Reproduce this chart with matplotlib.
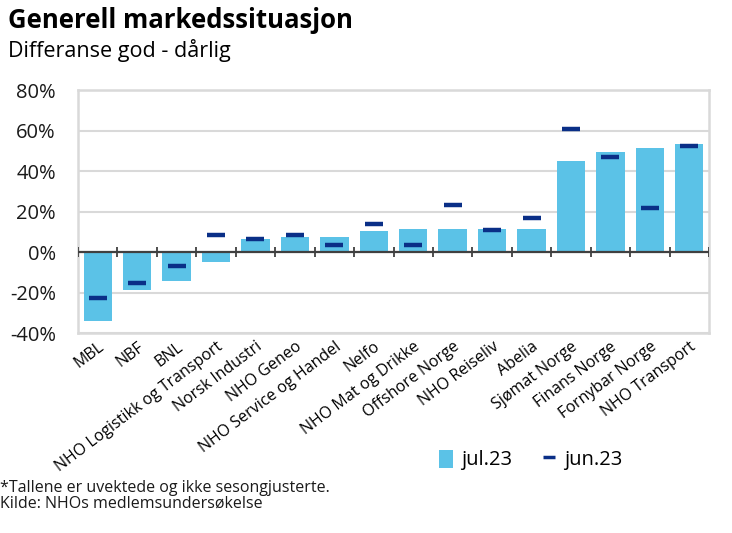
import matplotlib
matplotlib.use('Agg')
import matplotlib.pyplot as plt
import numpy as np
from matplotlib.lines import Line2D
from matplotlib.patches import Patch
from matplotlib.ticker import FuncFormatter

plt.rcParams['font.family'] = ['Open Sans', 'DejaVu Sans']

# ---------------------------------------------------------------------------
categories = ['MBL', 'NBF', 'BNL', 'NHO Logistikk og Transport', 'Norsk Industri',
              'NHO Geneo', 'NHO Service og Handel', 'Nelfo', 'NHO Mat og Drikke',
              'Offshore Norge', 'NHO Reiseliv', 'Abelia', 'Sjømat Norge',
              'Finans Norge', 'Fornybar Norge', 'NHO Transport']
jul23 = [-34, -18.5, -14.3, -4.8, 6.3, 7.3, 7.3, 10.6, 11.6, 11.6, 11.6, 11.6,
         45.2, 49.3, 51.4, 53.3]
jun23 = [-22.8, -15.3, -7.1, 8.6, 6.5, 8.6, 3.4, 13.7, 3.4, 23.2, 10.8, 16.9,
         60.8, 47.2, 22.0, 52.5]

bar_color = '#5BC2E7'
dash_color = '#0A2F87'
grid_color = '#D9D9D9'

fig = plt.figure(figsize=(7.32, 5.33), dpi=100)
ax = fig.add_axes([0.1066, 0.375, 0.862, 0.456])

x = np.arange(len(categories))
ax.bar(x, jul23, width=0.72, color=bar_color, zorder=2)
ax.plot(x, jun23, linestyle='none', marker='_', markersize=12.5,
        markeredgewidth=3.2, color=dash_color, zorder=3)

ax.set_xlim(-0.5, len(categories) - 0.5)
ax.set_ylim(-40, 80)
ax.set_yticks(np.arange(-40, 81, 20))
ax.yaxis.set_major_formatter(FuncFormatter(lambda v, p: f'{v:.0f}%'))
ax.tick_params(axis='y', length=0, labelsize=14.5, pad=16, labelcolor='#1a1a1a')
ax.grid(axis='y', color=grid_color, linewidth=1.5, zorder=0)
for s in ax.spines.values():
    s.set_color(grid_color)
    s.set_linewidth(1.8)

# zero line with tick marks at category boundaries
ax.axhline(0, color='#404040', linewidth=1.6, zorder=4)
for b in np.arange(-0.5, len(categories), 1.0):
    ax.plot([b, b], [-2.6, 2.6], color='#404040', linewidth=1.3, zorder=4,
            solid_capstyle='butt')

ax.set_xticks(x)
ax.set_xticklabels(categories, rotation=37, ha='right', va='top',
                   rotation_mode='anchor', fontsize=11.5)
ax.tick_params(axis='x', length=0, pad=4)

fig.text(0.011, 0.962, 'Generell markedssituasjon', fontsize=18.5, fontweight='bold',
         va='center', ha='left')
fig.text(0.011, 0.905, 'Differanse god - dårlig', fontsize=15.5, va='center', ha='left')

handles = [Patch(facecolor=bar_color, edgecolor='none'),
           Line2D([], [], linestyle='none', marker='_', markersize=8,
                  markeredgewidth=2.5, color=dash_color)]
fig.legend(handles, ['jul.23', 'jun.23'], loc='center', bbox_to_anchor=(0.725, 0.137),
           ncol=2, frameon=False, fontsize=14.5, handlelength=0.7, handleheight=1.0,
           handletextpad=0.4, columnspacing=1.5)

fig.text(0.0, 0.085, '*Tallene er uvektede og ikke sesongjusterte.', fontsize=11.5,
         va='center', ha='left', color='#1a1a1a')
fig.text(0.0, 0.055, 'Kilde: NHOs medlemsundersøkelse', fontsize=11.5,
         va='center', ha='left', color='#1a1a1a')

fig.savefig('out.png', dpi=100)
